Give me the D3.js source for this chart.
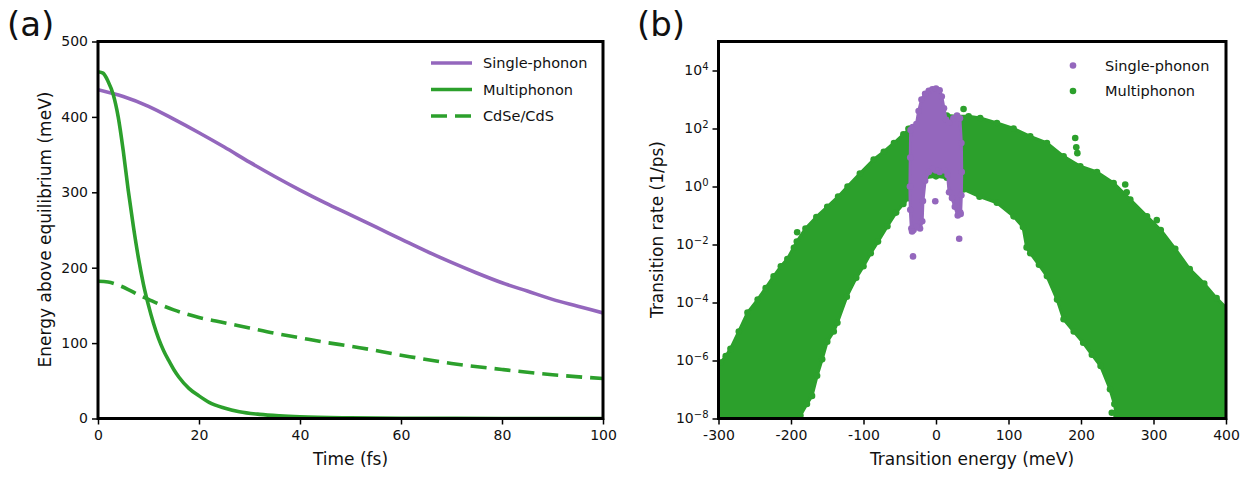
<!DOCTYPE html>
<html><head><meta charset="utf-8">
<script src="https://cdn.jsdelivr.net/npm/d3@7"></script>
<style>body{margin:0;background:#fff} text{font-family:"DejaVu Sans",sans-serif;fill:#111}</style>
</head><body><svg id="c" width="1253" height="478"></svg>
<script>
// ---------- Panel (a) data ----------
const singleT = [0,5,10,15,20,25,30,35,40,45,50,55,60,65,70,75,80,85,90,95,100];
const singleE = [436,427,414,397,379,360,340,321,303,286,270,254,238,222,207,193,180,169,158,149,140];
const multiT = [0,1,2,3,4,5,6,7,8,9,10,11,12,13,14,15,16,18,20,22,25,28,32,36,40,50,60,80,100];
const multiE = [460,458,447,430,400,355,302,255,213,178,150,126,106,90,77,65,55,40,30,21.5,14,9,5.5,3.5,2.2,0.8,0.3,0.05,0];
const cdseT = [0,2,4,6,8,10,12,15,20,25,30,35,40,45,50,60,70,80,90,100];
const cdseE = [182,181,177,171,164,158,152,144,134,127,120,113,107,101,96,84,73,65,58,53];
const xTicksA = [0,20,40,60,80,100];
const yTicksA = [0,100,200,300,400,500];
const legendA = ["Single-phonon","Multiphonon","CdSe/CdS"];

// ---------- Panel (b) data (cloud envelopes, energy meV / log10 rate) ----------
const greenUpperE   = [-305,-297,-290,-283.5,-272,-260,-246,-235,-224,-214,-205,-192,-180,-165,-150,-135,-122,-105,-86,-72,-58,-45,-35,-22,-10,0,15,29,45,61,84,107,130,153,176,199,222,245,268,291,310,330,350,370,387,405];
const greenUpperLog = [-6.3,-6.07,-5.85,-5.6,-5.0,-4.35,-3.9,-3.5,-3.1,-2.75,-2.5,-1.9,-1.45,-1.05,-0.7,-0.35,0.0,0.45,0.93,1.2,1.5,1.8,2.0,2.15,2.3,2.4,2.45,2.42,2.42,2.36,2.19,2.0,1.73,1.5,1.04,0.7,0.5,0.12,-0.45,-1.03,-1.5,-2.15,-2.85,-3.35,-3.85,-4.3];
const greenLowerE   = [-305,-190,-187,-178,-171,-164,-157,-150,-141,-136,-123,-110,-100,-90,-80,-67,-55,-45,-38,-30,-15,0,15,30,38,60,84,107,120,125,130,142,153,167,176,190,203,215,227,240,246,249,252,405];
const greenLowerLog = [-8.5,-8.5,-7.9,-7.5,-7.22,-6.53,-5.96,-5.35,-5.0,-4.7,-3.8,-3.15,-2.75,-2.3,-1.9,-1.37,-0.9,-0.6,-0.4,0.0,0.3,0.35,0.3,0.0,-0.1,-0.35,-0.56,-1.03,-1.4,-2.1,-2.3,-2.7,-3.09,-3.9,-4.58,-5.0,-5.39,-5.8,-6.19,-6.99,-7.5,-7.91,-8.5,-8.5];
const greenOutE   = [-191.5,-196,-38,38,192,193.5,195,261,263,304.5,242.5];
const greenOutLog = [-1.58,-2.11,1.99,2.67,1.67,1.35,1.15,0.07,-0.2,-1.16,-7.8];
const purpleE   = [-35,-32,-27,-24,-20,-15,-10,-5,0,5,8,11,14,18,24,29,33,35,35.5,35,34,30,26,22,18,16,12,5,0,-5,-10,-15,-18,-19,-22,-27,-31,-34,-35.5,-36,-35.5];
const purpleLog = [1.95,2.05,2.15,2.6,3.0,3.2,3.3,3.35,3.38,3.32,3.1,2.7,2.3,2.2,2.35,2.45,2.35,1.5,0.5,-0.3,-0.95,-1.0,-0.7,-0.4,-0.2,0.4,0.55,0.5,0.55,0.6,0.5,0.2,-0.5,-1.2,-1.45,-1.4,-1.5,-1.45,-0.8,0.0,1.0];
const purpleOutE   = [-31.7,32,-1,-33,33.5];
const purpleOutLog = [-2.41,-1.8,-0.51,-1.55,-0.9];
const xTicksB = [-300,-200,-100,0,100,200,300,400];
const yTicksBExp = [-8,-6,-4,-2,0,2,4];
const legendB = ["Single-phonon","Multiphonon"];

const PURPLE = "#9467bd", GREEN = "#2ca02c";
const svg = d3.select("#c");
svg.append("rect").attr("width",1253).attr("height",478).attr("fill","#fff");

function styleAxis(g){
  g.select(".domain").remove();
  g.selectAll(".tick line").attr("stroke","#000").attr("stroke-width",1.5);
  g.selectAll(".tick text").style("font-size","14px").attr("fill","#111");
}

// ================= Panel (a) =================
const xA = d3.scaleLinear().domain([0,100]).range([98,603]);
const yA = d3.scaleLinear().domain([0,500]).range([418.5,41.5]);
const gA = svg.append("g");
gA.append("defs").append("clipPath").attr("id","clipA").append("rect")
  .attr("x",98).attr("y",41.5).attr("width",505).attr("height",377);
const lineA = d3.line().x(d=>xA(d[0])).y(d=>yA(d[1])).curve(d3.curveMonotoneX);
const plotA = gA.append("g").attr("clip-path","url(#clipA)");
plotA.append("path").datum(cdseT.map((t,i)=>[t,cdseE[i]])).attr("d",lineA)
  .attr("fill","none").attr("stroke",GREEN).attr("stroke-width",3.6).attr("stroke-dasharray","16,8");
plotA.append("path").datum(singleT.map((t,i)=>[t,singleE[i]])).attr("d",lineA)
  .attr("fill","none").attr("stroke",PURPLE).attr("stroke-width",3.6);
plotA.append("path").datum(multiT.map((t,i)=>[t,multiE[i]])).attr("d",lineA)
  .attr("fill","none").attr("stroke",GREEN).attr("stroke-width",3.6);

gA.append("g").attr("transform","translate(0,418.5)")
  .call(d3.axisBottom(xA).tickValues(xTicksA).tickSize(6).tickPadding(6).tickFormat(d3.format("d"))).call(styleAxis);
gA.append("g").attr("transform","translate(98,0)")
  .call(d3.axisLeft(yA).tickValues(yTicksA).tickSize(6).tickPadding(4).tickFormat(d3.format("d"))).call(styleAxis);
gA.append("rect").attr("x",98).attr("y",41.5).attr("width",505).attr("height",377)
  .attr("fill","none").attr("stroke","#000").attr("stroke-width",3);

// legend a
const legColorsA = [PURPLE,GREEN,GREEN];
legendA.forEach((name,i)=>{
  const yy = 63 + i*26.5;
  gA.append("line").attr("x1",431).attr("x2",472).attr("y1",yy).attr("y2",yy)
    .attr("stroke",legColorsA[i]).attr("stroke-width",3.6)
    .attr("stroke-dasharray", i===2 ? "16,8" : null);
  gA.append("text").attr("x",483).attr("y",yy).attr("dy","0.35em")
    .style("font-size","14.5px").text(name);
});
gA.append("text").attr("x",350.5).attr("y",465).attr("text-anchor","middle")
  .style("font-size","17px").text("Time (fs)");
gA.append("text").attr("transform","translate(51,229.5) rotate(-90)").attr("text-anchor","middle")
  .style("font-size","17px").text("Energy above equilibrium (meV)");
gA.append("text").attr("x",7).attr("y",36).style("font-size","34px").text("(a)");

// ================= Panel (b) =================
const xB = d3.scaleLinear().domain([-300,400]).range([718.5,1226]);
const yB = d3.scaleLog().domain([1e-8,1e5]).range([418.5,41.5]);
const gB = svg.append("g");
gB.append("defs").append("clipPath").attr("id","clipB").append("rect")
  .attr("x",718.5).attr("y",41.5).attr("width",507.5).attr("height",377);
const plotB = gB.append("g").attr("clip-path","url(#clipB)");
const polyLine = d3.line().x(d=>xB(d[0])).y(d=>yB(Math.pow(10,d[1]))).curve(d3.curveLinearClosed);

const upper = greenUpperE.map((e,i)=>[e,greenUpperLog[i]]);
const lower = greenLowerE.map((e,i)=>[e,greenLowerLog[i]]);
const greenPoly = upper.concat(lower.slice().reverse());
plotB.append("path").datum(greenPoly).attr("d",polyLine)
  .attr("fill",GREEN).attr("stroke",GREEN).attr("stroke-width",3).attr("stroke-linejoin","round");
const greenDots = upper.concat(lower).concat(greenOutE.map((e,i)=>[e,greenOutLog[i]]));
plotB.append("g").selectAll("circle").data(greenDots).join("circle")
  .attr("cx",d=>xB(d[0])).attr("cy",d=>yB(Math.pow(10,d[1]))).attr("r",3.3).attr("fill",GREEN);

const purplePoly = purpleE.map((e,i)=>[e,purpleLog[i]]);
plotB.append("path").datum(purplePoly).attr("d",polyLine)
  .attr("fill",PURPLE).attr("stroke",PURPLE).attr("stroke-width",3).attr("stroke-linejoin","round");
const purpleDots = purplePoly.concat(purpleOutE.map((e,i)=>[e,purpleOutLog[i]]));
plotB.append("g").selectAll("circle").data(purpleDots).join("circle")
  .attr("cx",d=>xB(d[0])).attr("cy",d=>yB(Math.pow(10,d[1]))).attr("r",3.3).attr("fill",PURPLE);

gB.append("g").attr("transform","translate(0,418.5)")
  .call(d3.axisBottom(xB).tickValues(xTicksB).tickSize(6).tickPadding(6).tickFormat(d=>String(d))).call(styleAxis);
const yAxB = gB.append("g").attr("transform","translate(718.5,0)")
  .call(d3.axisLeft(yB).tickValues(yTicksBExp.map(e=>Math.pow(10,e))).tickSize(6).tickPadding(4).tickFormat(()=>"")).call(styleAxis);
yAxB.selectAll(".tick text").each(function(d,i){
  const t = d3.select(this);
  t.text(null);
  const ex = yTicksBExp[i];
  t.append("tspan").text("10");
  t.append("tspan").attr("dy","-0.55em").style("font-size","10px").text(ex<0 ? "\u2212"+Math.abs(ex) : String(ex));
});
gB.append("rect").attr("x",718.5).attr("y",41.5).attr("width",507.5).attr("height",377)
  .attr("fill","none").attr("stroke","#000").attr("stroke-width",3);

// legend b
const legColorsB = [PURPLE,GREEN];
legendB.forEach((name,i)=>{
  const yy = 65.5 + i*25.5;
  gB.append("circle").attr("cx",1073).attr("cy",yy).attr("r",3.3).attr("fill",legColorsB[i]);
  gB.append("text").attr("x",1105).attr("y",yy).attr("dy","0.35em")
    .style("font-size","14.5px").text(name);
});
gB.append("text").attr("x",972).attr("y",465).attr("text-anchor","middle")
  .style("font-size","17px").text("Transition energy (meV)");
gB.append("text").attr("transform","translate(663,229.5) rotate(-90)").attr("text-anchor","middle")
  .style("font-size","17px").text("Transition rate (1/ps)");
gB.append("text").attr("x",637).attr("y",36).style("font-size","34px").text("(b)");
</script></body></html>
